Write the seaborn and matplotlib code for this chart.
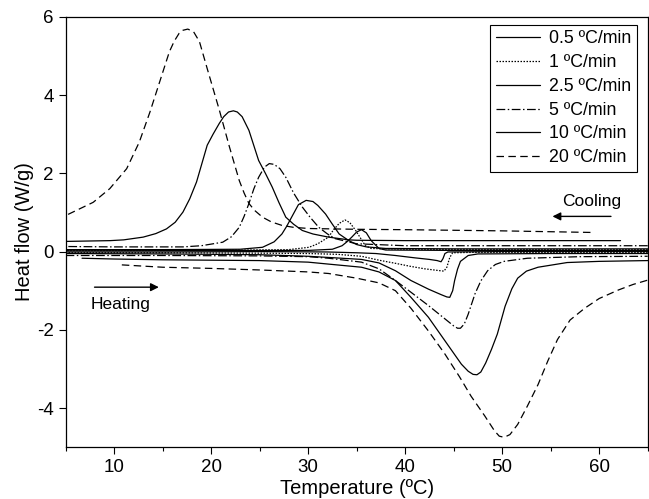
import pandas as pd
import seaborn as sns
import matplotlib.pyplot as plt
from matplotlib.ticker import MultipleLocator

# Heating scans (endothermic, negative)
heat_05_T = [5, 15, 25, 32, 35, 37, 39, 41, 42.5, 43.3, 43.7, 43.9, 44.1, 44.4, 50, 65]
heat_05_Q = [-0.01, -0.01, 0.0, -0.01, -0.03, -0.05, -0.1, -0.16, -0.2, -0.23, -0.26, -0.18, -0.05, -0.01, 0.0, 0.0]

heat_1_T = [5, 15, 25, 30, 33, 35.5, 37.3, 39, 40.6, 42, 43.3, 44.0, 44.3, 44.6, 44.9, 47, 55, 65]
heat_1_Q = [-0.03, -0.03, -0.04, -0.05, -0.07, -0.12, -0.22, -0.3, -0.38, -0.44, -0.48, -0.5, -0.4, -0.15, -0.03, -0.02, -0.02, -0.02]

heat_25_T = [5, 15, 25, 30, 32.1, 35.5, 37.3, 39, 40.6, 42.4, 43.7, 44.3, 44.6, 44.9, 45.1, 45.4, 45.7, 46.5, 47.5, 55, 65]
heat_25_Q = [-0.05, -0.06, -0.08, -0.12, -0.15, -0.2, -0.29, -0.49, -0.74, -0.96, -1.1, -1.16, -1.17, -1.0, -0.74,
             -0.45, -0.25, -0.1, -0.06, -0.05, -0.05]

heat_5_T = [5, 15, 25, 30, 32.1, 35.5, 37.3, 39, 40.6, 42.4, 44, 45, 45.4, 45.7, 46.1, 46.5, 47.2, 47.8, 48.5, 49.3,
            50.2, 52.6, 58, 65]
heat_5_Q = [-0.1, -0.1, -0.11, -0.13, -0.17, -0.27, -0.44, -0.74, -1.04, -1.38, -1.7, -1.9, -1.96, -1.96, -1.85,
            -1.6, -1.08, -0.75, -0.49, -0.33, -0.25, -0.17, -0.13, -0.12]

heat_10_T = [6.7, 10, 15, 20, 25, 30, 32.1, 35.5, 37.3, 39, 40.6, 42.4, 44.1, 45.8, 46.5, 47.0, 47.4, 47.8, 48.3,
             48.9, 49.5, 50.3, 51, 51.6, 52.5, 53.7, 56.7, 60, 65]
heat_10_Q = [-0.17, -0.19, -0.21, -0.22, -0.23, -0.27, -0.32, -0.4, -0.52, -0.74, -1.17, -1.68, -2.28, -2.88, -3.06,
             -3.14, -3.15, -3.08, -2.85, -2.5, -2.11, -1.4, -0.95, -0.68, -0.5, -0.4, -0.28, -0.25, -0.23]

heat_20_T = [10.8, 15, 20, 25, 30, 32.1, 35, 37.3, 39, 40.6, 42.4, 44.1, 45.6, 46.8, 48.2, 49.2, 49.7, 50.2, 50.8,
             51.6, 52.6, 53.7, 54.7, 55.7, 57, 58.5, 60, 62, 63.5, 65]
heat_20_Q = [-0.34, -0.4, -0.43, -0.47, -0.52, -0.56, -0.68, -0.8, -1.0, -1.45, -2.03, -2.62, -3.2, -3.7, -4.2,
             -4.58, -4.72, -4.75, -4.68, -4.42, -3.95, -3.4, -2.8, -2.25, -1.75, -1.45, -1.2, -0.98, -0.84, -0.73]

# Cooling scans (exothermic, positive)
cool_05_T = [65, 45, 38, 37.3, 36.5, 36, 35.5, 35, 34.5, 34, 33.5, 32.5, 30, 5]
cool_05_Q = [0.03, 0.03, 0.04, 0.08, 0.28, 0.48, 0.56, 0.5, 0.37, 0.25, 0.15, 0.06, 0.03, 0.02]

cool_1_T = [65, 50, 40, 36.5, 35.9, 34.9, 34.3, 33.8, 33.2, 32.6, 32.1, 31, 30.1, 28, 20, 5]
cool_1_Q = [0.05, 0.05, 0.06, 0.08, 0.15, 0.54, 0.74, 0.81, 0.72, 0.55, 0.37, 0.2, 0.11, 0.05, 0.03, 0.03]

cool_25_T = [65, 45, 38, 36, 35, 34.2, 33.2, 32.5, 31.8, 31, 30.5, 29.8, 29, 28.3, 27.8, 27.3, 26.5, 25.3, 23, 15, 5]
cool_25_Q = [0.07, 0.07, 0.08, 0.12, 0.18, 0.28, 0.45, 0.7, 0.96, 1.18, 1.28, 1.31, 1.2, 0.88, 0.65, 0.45, 0.25,
             0.11, 0.06, 0.05, 0.05]

cool_5_T = [65, 50, 40, 35, 33.8, 32.8, 32, 31.1, 30.2, 29.4, 28.5, 27.7, 27.1, 26.5, 26.0, 25.5, 24.9, 24.4, 23.9,
            23.4, 22.9, 22.1, 21.2, 19, 17.1, 10, 5]
cool_5_Q = [0.15, 0.15, 0.15, 0.2, 0.27, 0.33, 0.45, 0.62, 0.88, 1.14, 1.5, 1.9, 2.12, 2.23, 2.25, 2.16, 1.9, 1.6,
            1.23, 0.9, 0.62, 0.38, 0.24, 0.15, 0.12, 0.12, 0.13]

cool_10_T = [62.2, 50, 40, 35, 34.2, 32.1, 30.5, 29.4, 28.5, 27.7, 27, 26.3, 25.6, 24.9, 23.9, 23.2, 22.7, 22.3,
             21.8, 21.3, 20.85, 20.2, 19.6, 18.5, 17.8, 17.1, 16.3, 15.4, 14.3, 13, 11, 9.6, 5]
cool_10_Q = [0.28, 0.28, 0.28, 0.29, 0.3, 0.37, 0.45, 0.54, 0.7, 0.88, 1.25, 1.65, 2.0, 2.33, 3.1, 3.45, 3.57, 3.6,
             3.57, 3.45, 3.28, 3.0, 2.72, 1.78, 1.35, 1.01, 0.75, 0.58, 0.46, 0.37, 0.3, 0.28, 0.26]

cool_20_T = [59.1, 50, 40, 35, 30.1, 28.5, 27.3, 26.2, 25.3, 24.5, 23.9, 23.4, 22.9, 21.9, 20.85, 19.6, 18.8, 18.2,
             17.6, 17.1, 16.7, 16.2, 15.7, 14.7, 13.7, 12.6, 11.3, 9.56, 7.85, 5]
cool_20_Q = [0.49, 0.53, 0.56, 0.57, 0.59, 0.62, 0.67, 0.76, 0.88, 1.05, 1.23, 1.5, 1.82, 2.67, 3.62, 4.68, 5.37,
             5.62, 5.69, 5.66, 5.58, 5.38, 5.11, 4.34, 3.57, 2.8, 2.12, 1.61, 1.26, 0.92]

rates = ["0.5 ºC/min", "1 ºC/min", "2.5 ºC/min", "5 ºC/min", "10 ºC/min", "20 ºC/min"]
heating = [(heat_05_T, heat_05_Q), (heat_1_T, heat_1_Q), (heat_25_T, heat_25_Q),
           (heat_5_T, heat_5_Q), (heat_10_T, heat_10_Q), (heat_20_T, heat_20_Q)]
cooling = [(cool_05_T, cool_05_Q), (cool_1_T, cool_1_Q), (cool_25_T, cool_25_Q),
           (cool_5_T, cool_5_Q), (cool_10_T, cool_10_Q), (cool_20_T, cool_20_Q)]
styles = ["-", (0, (1.2, 1.2)), "-", (0, (7, 2, 1.2, 2)), "-", (0, (6, 3.5))]

sns.set_style("ticks")
plt.rcParams["font.family"] = ["Liberation Sans", "DejaVu Sans"]
plt.rcParams["axes.edgecolor"] = "black"
plt.rcParams["axes.labelcolor"] = "black"
plt.rcParams["text.color"] = "black"
plt.rcParams["axes.unicode_minus"] = False

fig, ax = plt.subplots(figsize=(6.49, 4.99), dpi=100)
fig.subplots_adjust(left=0.101, right=0.998, bottom=0.104, top=0.966)

for label, (hT, hQ), (cT, cQ), ls in zip(rates, heating, cooling, styles):
    sns.lineplot(x=hT, y=hQ, sort=False, color="black", linewidth=0.9, linestyle=ls, label=label, ax=ax)
    sns.lineplot(x=cT, y=cQ, sort=False, color="black", linewidth=0.9, linestyle=ls, ax=ax)

ax.set_xlim(5, 65)
ax.set_ylim(-5, 6)
ax.xaxis.set_major_locator(MultipleLocator(10))
ax.xaxis.set_minor_locator(MultipleLocator(5))
ax.yaxis.set_major_locator(MultipleLocator(2))
ax.tick_params(which="major", direction="out", length=5, width=0.8, labelsize=13.5, colors="black")
ax.tick_params(which="minor", direction="out", length=3, width=0.8, colors="black")
for sp in ax.spines.values():
    sp.set_linewidth(0.9)
    sp.set_visible(True)

ax.set_xlabel("Temperature (ºC)", fontsize=14.5, labelpad=2)
ax.set_ylabel("Heat flow (W/g)", fontsize=14.5, labelpad=2)

# direction arrows
ax.annotate("", xy=(54.9, 0.9), xytext=(61.5, 0.9),
            arrowprops=dict(arrowstyle="-|>", color="black", lw=1, mutation_scale=12))
ax.text(59.2, 1.28, "Cooling", ha="center", va="center", fontsize=12.5)
ax.annotate("", xy=(14.9, -0.91), xytext=(7.7, -0.91),
            arrowprops=dict(arrowstyle="-|>", color="black", lw=1, mutation_scale=12))
ax.text(10.7, -1.35, "Heating", ha="center", va="center", fontsize=12.5)

leg = ax.legend(loc="upper right", bbox_to_anchor=(0.981, 0.981), borderaxespad=0, fontsize=12.8,
                frameon=True, fancybox=False, edgecolor="black", framealpha=1,
                handlelength=2.5, labelspacing=0.38, borderpad=0.3, handletextpad=0.5)
leg.get_frame().set_linewidth(0.8)

plt.savefig("out.png", dpi=100)
